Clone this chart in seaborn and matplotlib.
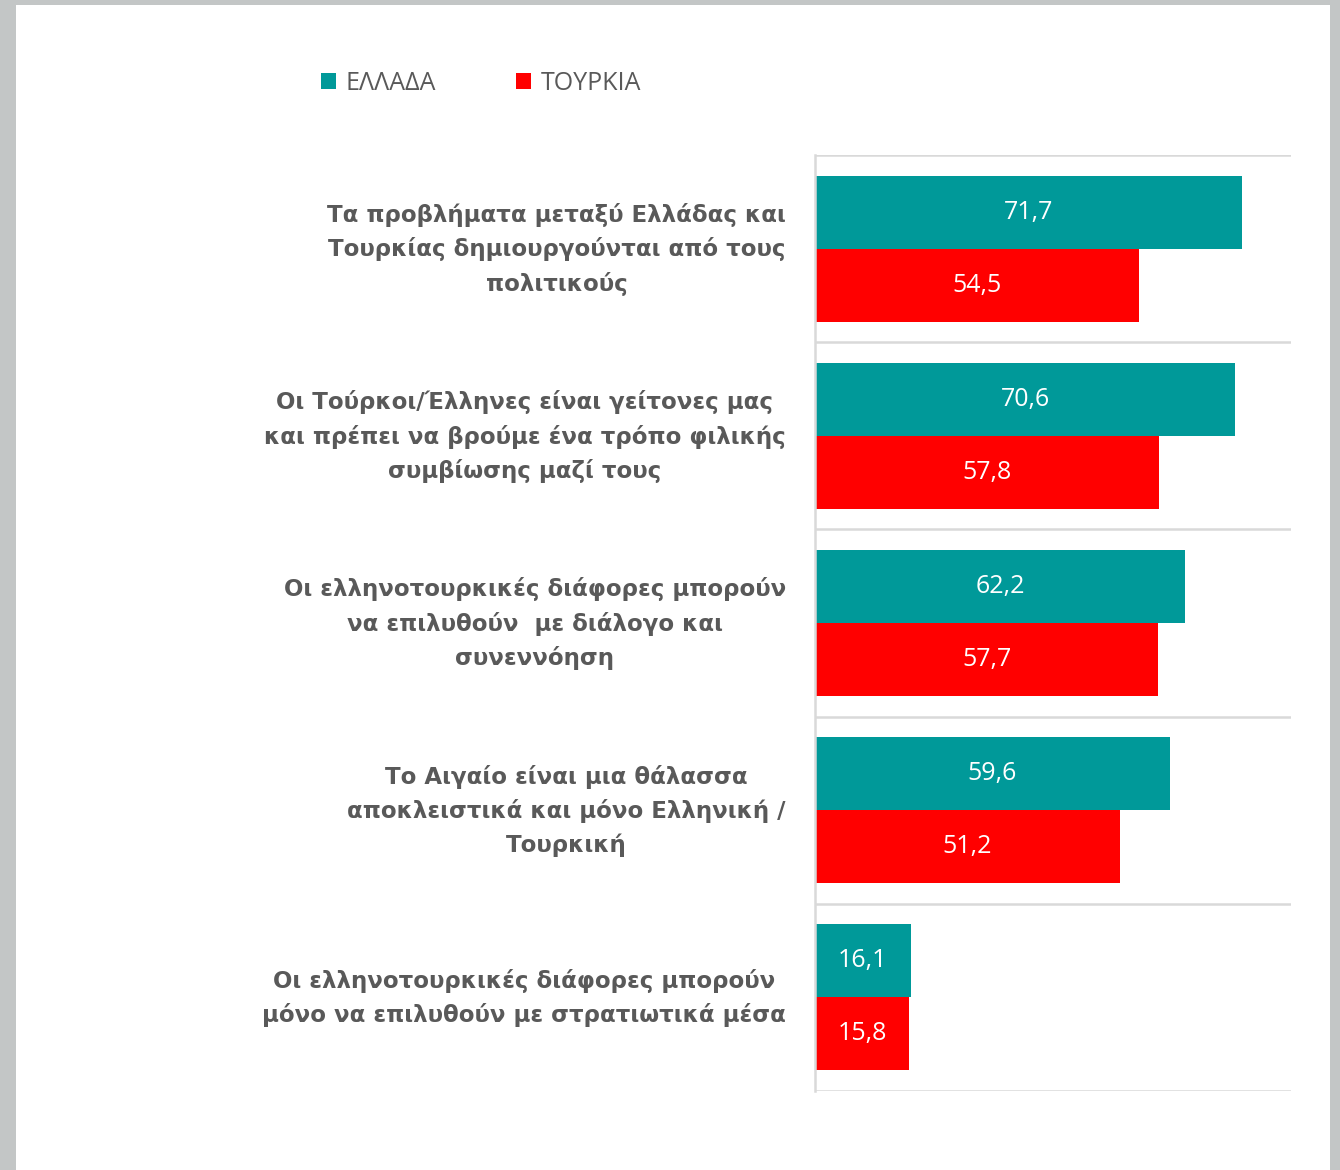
import pandas as pd
import numpy as np
import matplotlib
matplotlib.use("Agg")
import matplotlib.pyplot as plt
import matplotlib.transforms as mtransforms
import seaborn as sns
from matplotlib.patches import Rectangle, Patch

# data
statements = [
    "Τα προβλήματα μεταξύ Ελλάδας και\nΤουρκίας δημιουργούνται από τους\nπολιτικούς",
    "Οι Τούρκοι/Έλληνες είναι γείτονες μας\nκαι πρέπει να βρούμε ένα τρόπο φιλικής\nσυμβίωσης μαζί τους",
    "Οι ελληνοτουρκικές διάφορες μπορούν\nνα επιλυθούν  με διάλογο και\nσυνεννόηση",
    "Το Αιγαίο είναι μια θάλασσα\nαποκλειστικά και μόνο Ελληνική /\nΤουρκική",
    "Οι ελληνοτουρκικές διάφορες μπορούν\nμόνο να επιλυθούν με στρατιωτικά μέσα",
]
greece = [71.7, 70.6, 62.2, 59.6, 16.1]
turkey = [54.5, 57.8, 57.7, 51.2, 15.8]
series_names = ["ΕΛΛΑΔΑ", "ΤΟΥΡΚΙΑ"]
colors = ["#009999", "#FF0000"]

df = pd.DataFrame({
    "statement": statements * 2,
    "value": greece + turkey,
    "country": [series_names[0]] * 5 + [series_names[1]] * 5,
})

sns.set_style("white")
plt.rcParams["font.family"] = ["Open Sans", "DejaVu Sans"]

fig = plt.figure(figsize=(13.4, 11.7), dpi=100)
fig.patch.set_facecolor("#c3c6c6")
# white page
page = Rectangle((16 / 1340, 0), (1330 - 16) / 1340, 1 - 5 / 1170,
                 transform=fig.transFigure, facecolor="white",
                 edgecolor="none", zorder=-10)
fig.patches.append(page)

ax = fig.add_axes([815 / 1340, 1 - 1091 / 1170, (1291 - 815) / 1340, (1091 - 155) / 1170])
ax.set_facecolor("white")
ax.set_zorder(5)

sns.barplot(data=df, y="statement", x="value", hue="country", orient="h",
            palette=colors, width=0.78, dodge=True, legend=False, ax=ax,
            saturation=1, edgecolor="none")

ax.set_xlim(0, 80)
ax.set_ylim(4.5, -0.5)
ax.set_xticks([])
ax.set_xlabel("")
ax.set_ylabel("")

# category separators
for b in np.arange(-0.5, 5, 1):
    ax.axhline(b, color="#d9d9d9", lw=1.8, zorder=0)
for s in ["top", "right", "bottom"]:
    ax.spines[s].set_visible(False)
ax.spines["left"].set_color("#d9d9d9")
ax.spines["left"].set_linewidth(1.8)

ax.set_yticks(range(len(statements)))
ax.set_yticklabels(statements, fontsize=16.5, fontweight="bold", color="#595959",
                   family=["DejaVu Sans"], multialignment="center", linespacing=1.55)
ax.tick_params(axis="y", length=0, pad=21)
shift = mtransforms.ScaledTranslation(0, 7 / 100, fig.dpi_scale_trans)
for lab in ax.get_yticklabels():
    lab.set_transform(lab.get_transform() + shift)

for cont in ax.containers:
    labels = [f"{b.get_width():.1f}".replace(".", ",") for b in cont]
    ax.bar_label(cont, labels=labels, label_type="center", color="white", fontsize=18)

handles = [Patch(facecolor=c, edgecolor="none") for c in colors]
fig.legend(handles, series_names, loc="center", bbox_to_anchor=(481 / 1340, 1 - 83 / 1170),
           ncol=2, frameon=False, fontsize=18, handlelength=0.6, handleheight=0.6,
           handletextpad=0.4, columnspacing=3.2, labelcolor="#595959")

fig.savefig("out.png", dpi=100, facecolor=fig.get_facecolor())
